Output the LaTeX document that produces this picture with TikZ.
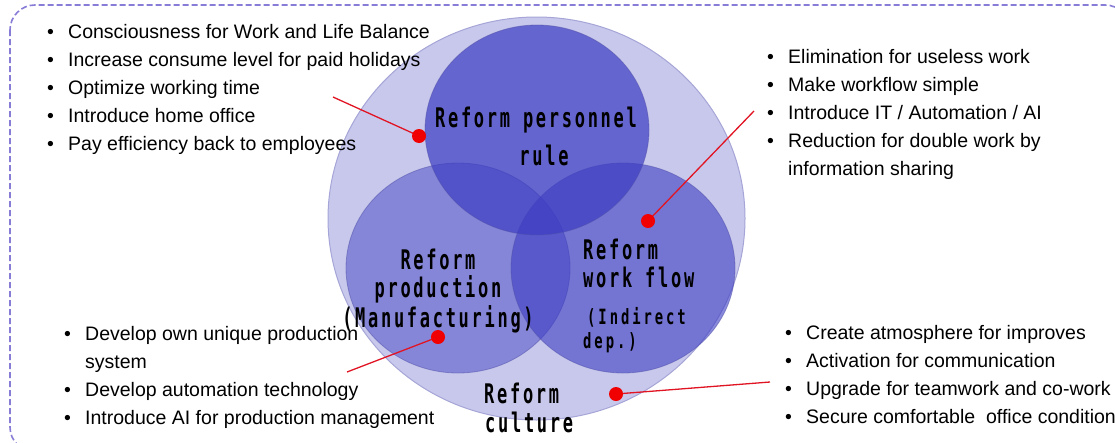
\documentclass[tikz,border=0pt]{standalone}
\usepackage{fontspec}
\setmainfont{Liberation Sans}
\newfontfamily\gfont[FakeStretch=0.63,LetterSpace=10]{DejaVu Sans Mono}
\newfontfamily\gfontb[FakeStretch=0.66,LetterSpace=14]{DejaVu Sans Mono}
\usetikzlibrary{shapes.geometric}
\definecolor{bigc}{RGB}{200,200,236}
\definecolor{bigedge}{RGB}{165,165,215}
\definecolor{smallc}{RGB}{60,60,195}
\definecolor{smalledge}{RGB}{80,80,170}
\definecolor{framec}{RGB}{135,125,215}
\definecolor{dotc}{RGB}{240,0,0}
\definecolor{linec}{RGB}{225,20,35}
\newcommand{\bl}{\makebox[21pt][l]{•}}
\begin{document}
\begin{tikzpicture}[x=1pt,y=-1pt,
  item/.style={anchor=base west, inner sep=0pt, font=\fontsize{19.5}{22}\selectfont},
  lbl/.style={inner sep=0pt, font=\gfont\bfseries\fontsize{27}{30}\selectfont},
  lblsmall/.style={inner sep=0pt, font=\gfontb\bfseries\fontsize{21}{24}\selectfont},
  venn/.style={ellipse, minimum width=224pt, minimum height=210pt, inner sep=0pt, fill=smallc, draw=smalledge, draw opacity=0.5, line width=0.8pt},
  reddot/.style={circle, fill=dotc, minimum size=14pt, inner sep=0pt},
  redline/.style={draw=linec, line width=1.3pt},
  frame/.style={draw=framec, line width=1.6pt, dash pattern=on 6pt off 3pt, rounded corners=25pt}]
\useasboundingbox (0,0) rectangle (1115,442);
% frame
\draw[frame] (10,5) rectangle (1130,452);
% circles
\node[ellipse, minimum width=417pt, minimum height=403pt, inner sep=0pt, fill=bigc, draw=bigedge, line width=1pt] (cbig) at (536.5,218.5) {};
\node[venn, fill opacity=0.47] (cleft) at (458,268) {};
\node[venn, fill opacity=0.6] (cright) at (623,268) {};
\node[venn, fill opacity=0.7] (ctop) at (537,130) {};
% circle labels
\node[lbl, anchor=base] (p1) at (536,127) {Reform personnel};
\node[lbl, anchor=base] (p2) at (544,165) {rule};
\node[lbl, anchor=base] (m1) at (438,269) {Reform};
\node[lbl, anchor=base] (m2) at (438,297) {production};
\node[lbl, anchor=base] (m3) at (438,327) {(Manufacturing)};
\node[lbl, anchor=base west] (w1) at (583,259) {Reform};
\node[lbl, anchor=base west] (w2) at (583,287) {work flow};
\node[lblsmall, anchor=base west] (w3) at (587,324) {(Indirect};
\node[lblsmall, anchor=base west] (w4) at (583,348) {dep.)};
\node[lbl, anchor=base west] (c1) at (484,403) {Reform};
\node[lbl, anchor=base west] (c2) at (485,432) {culture};
% connectors
\coordinate (e1) at (333,97);
\coordinate (e2) at (754,111);
\coordinate (e3) at (347,372);
\coordinate (e4) at (770,382);
\coordinate (d1c) at (419,136);
\coordinate (d2c) at (648,221);
\coordinate (d3c) at (438,337);
\coordinate (d4c) at (616,394);
\draw[redline] (e1) -- (d1c);
\draw[redline] (e2) -- (d2c);
\draw[redline] (e3) -- (d3c);
\draw[redline] (e4) -- (d4c);
\node[reddot] (d1) at (d1c) {};
\node[reddot] (d2) at (d2c) {};
\node[reddot] (d3) at (d3c) {};
\node[reddot] (d4) at (d4c) {};
% top-left list
\node[item] (a1) at (47,38) {\bl Consciousness for Work and Life Balance};
\node[item] (a2) at (47,66) {\bl Increase consume level for paid holidays};
\node[item] (a3) at (47,94) {\bl Optimize working time};
\node[item] (a4) at (47,122) {\bl Introduce home office};
\node[item] (a5) at (47,150) {\bl Pay efficiency back to employees};
% top-right list
\node[item] (b1) at (767,63) {\bl Elimination for useless work};
\node[item] (b2) at (767,91) {\bl Make workflow simple};
\node[item] (b3) at (767,119) {\bl Introduce IT / Automation / AI};
\node[item] (b4) at (767,147) {\bl Reduction for double work by};
\node[item] (b5) at (788,175) {information sharing};
% bottom-left list
\node[item] (f1) at (64,340) {\bl Develop own unique production};
\node[item] (f2) at (85,368) {system};
\node[item] (f3) at (64,396) {\bl Develop automation technology};
\node[item] (f4) at (64,424) {\bl Introduce AI for production management};
% bottom-right list
\node[item] (g1) at (785,339) {\bl Create atmosphere for improves};
\node[item] (g2) at (785,367) {\bl Activation for communication};
\node[item] (g3) at (785,395) {\bl Upgrade for teamwork and co-work};
\node[item] (g4) at (785,423) {\bl Secure comfortable\ \ office condition};
\end{tikzpicture}
\end{document}
